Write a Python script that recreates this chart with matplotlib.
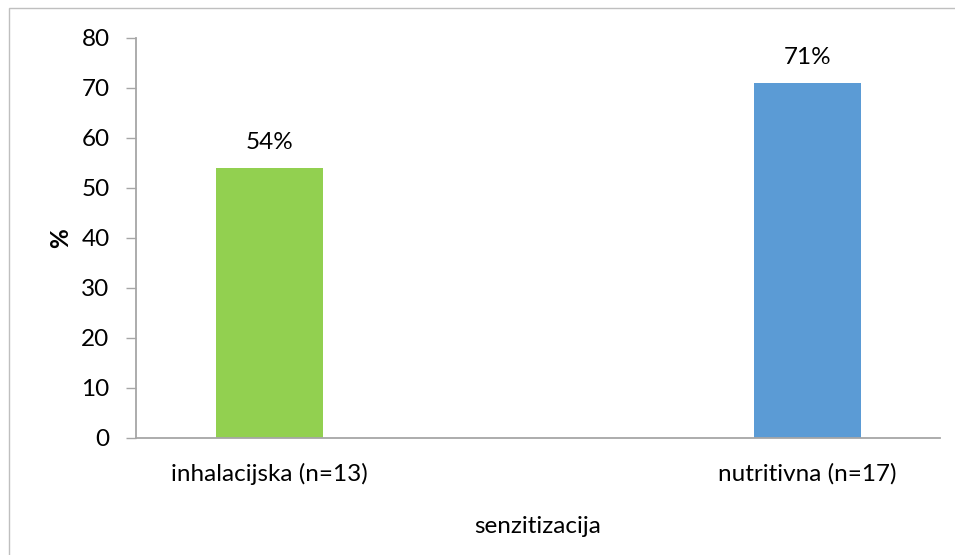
import matplotlib.pyplot as plt
from matplotlib.patches import Rectangle

# data
categories = ['inhalacijska (n=13)', 'nutritivna (n=17)']
values = [54, 71]
labels = ['54%', '71%']
colors = ['#92d050', '#5b9bd5']
yticks = [0, 10, 20, 30, 40, 50, 60, 70, 80]

plt.rcParams['font.family'] = ['Lato', 'DejaVu Sans']
fs = 17.5

fig = plt.figure(figsize=(9.55, 5.55), dpi=100)
ax = fig.add_axes([136/955, 1-438/555, (940-136)/955, 400/555])

x = list(range(len(categories)))
bars = ax.bar(x, values, width=0.199, color=colors)
for b, lab in zip(bars, labels):
    ax.annotate(lab, (b.get_x()+b.get_width()/2, b.get_height()),
                xytext=(0, 11), textcoords='offset points',
                ha='center', va='bottom', fontsize=fs, color='#000000')

ax.set_xlim(-0.248, 1.246)
ax.set_ylim(0, 80)
ax.set_yticks(yticks)
ax.set_xticks(x)
ax.set_xticklabels(categories)

for s in ['top', 'right']:
    ax.spines[s].set_visible(False)
for s in ['left', 'bottom']:
    ax.spines[s].set_color('#a6a6a6')
    ax.spines[s].set_linewidth(1.3)
ax.tick_params(axis='y', length=7, width=1, color='#a6a6a6', pad=12, labelsize=fs)
ax.tick_params(axis='x', length=0, pad=18, labelsize=fs)

ax.set_ylabel('%', fontsize=fs, fontweight='bold', labelpad=7)
ax.set_xlabel('senzitizacija', fontsize=fs, labelpad=22)

# chart border
fig.patches.append(Rectangle((9/955, -0.2), 1.2, 0.2+1-8/555, transform=fig.transFigure,
                             fill=False, edgecolor='#bfbfbf', linewidth=1))

fig.savefig('out.png')
